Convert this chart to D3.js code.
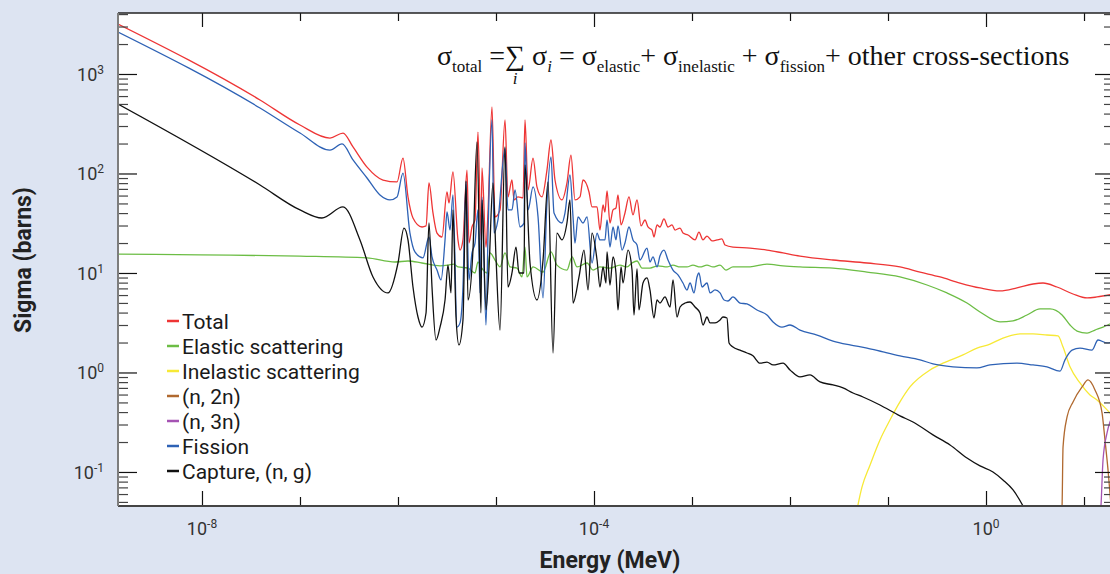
<!DOCTYPE html>
<html>
<head>
<meta charset="utf-8">
<script src="https://cdn.jsdelivr.net/npm/d3@7"></script>
<style>
  html, body { margin: 0; padding: 0; background: #dde4f2; }
  svg { display: block; }
</style>
</head>
<body>
<div id="chart"></div>
<script>
// Each point: [log10(E / MeV), sigma in barns]
const total = [
  [-8.857, 3180], [-7.408, 548], [-7.000, 307], [-6.694, 227], [-6.561, 255], [-6.459, 185],
  [-6.316, 116], [-6.153, 86.0], [-6.010, 82.2], [-5.949, 143], [-5.898, 58.1], [-5.847, 35.7],
  [-5.755, 29.0], [-5.714, 29.7], [-5.684, 80.3], [-5.643, 40.1], [-5.602, 25.2], [-5.551, 23.0],
  [-5.500, 65.2], [-5.480, 50.6], [-5.439, 104], [-5.388, 21.5], [-5.367, 17.0], [-5.337, 21.5],
  [-5.296, 108], [-5.276, 20.0], [-5.245, 29.0], [-5.214, 34.1], [-5.184, 261], [-5.153, 21.5],
  [-5.143, 114], [-5.102, 18.2], [-5.082, 40.1], [-5.041, 466], [-5.010, 36.6], [-4.959, 43.0],
  [-4.908, 345], [-4.878, 58.1], [-4.837, 86.0], [-4.816, 54.2], [-4.776, 58.1], [-4.724, 56.8],
  [-4.704, 345], [-4.673, 68.3], [-4.622, 143], [-4.582, 73.2], [-4.531, 58.1], [-4.480, 108],
  [-4.439, 217], [-4.398, 86.0], [-4.327, 54.2], [-4.276, 80.3], [-4.235, 153], [-4.194, 54.2],
  [-4.143, 58.1], [-4.112, 86.0], [-4.051, 65.2], [-4.020, 46.1], [-3.969, 46.1], [-3.939, 27.0],
  [-3.908, 48.2], [-3.888, 41.0], [-3.867, 66.7], [-3.837, 31.8], [-3.806, 43.0], [-3.776, 45.0],
  [-3.755, 60.8], [-3.724, 30.4], [-3.684, 40.1], [-3.643, 58.1], [-3.602, 38.3], [-3.561, 54.2],
  [-3.520, 29.7], [-3.480, 34.1], [-3.449, 29.0], [-3.408, 27.0], [-3.388, 23.0], [-3.357, 30.4],
  [-3.327, 29.0], [-3.286, 34.9], [-3.245, 29.0], [-3.204, 30.4], [-3.173, 27.0], [-3.122, 28.3],
  [-3.092, 25.2], [-3.041, 24.1], [-2.969, 21.5], [-2.929, 25.8], [-2.888, 21.5], [-2.847, 23.5],
  [-2.796, 21.0], [-2.745, 21.5], [-2.694, 22.0], [-2.663, 19.1], [-2.582, 18.2], [-2.408, 17.8],
  [-2.235, 17.0], [-2.071, 15.9], [-1.898, 14.8], [-1.561, 13.5], [-1.214, 12.6], [-0.878, 11.5],
  [-0.673, 10.2], [-0.469, 9.12], [-0.265, 7.93], [-0.061, 7.07], [0.143, 6.60], [0.316, 7.07],
  [0.480, 7.75], [0.582, 7.93], [0.724, 7.23], [0.888, 6.15], [1.031, 5.61], [1.133, 5.74],
  [1.306, 6.15]
]

const elastic = [
  [-8.857, 15.5], [-8.020, 15.2], [-7.000, 14.8], [-6.316, 14.2], [-6.031, 12.9], [-5.898, 13.2],
  [-5.755, 12.6], [-5.571, 11.8], [-5.490, 12.0], [-5.429, 12.3], [-5.388, 11.5], [-5.286, 11.2],
  [-5.214, 10.0], [-5.184, 12.9], [-5.153, 11.5], [-5.092, 10.0], [-5.061, 15.9], [-5.010, 13.5],
  [-4.959, 11.5], [-4.908, 15.9], [-4.857, 11.5], [-4.786, 11.2], [-4.735, 9.12], [-4.704, 18.2],
  [-4.684, 9.12], [-4.622, 11.5], [-4.520, 10.2], [-4.439, 16.3], [-4.378, 12.0], [-4.276, 10.7],
  [-4.224, 14.5], [-4.173, 11.5], [-4.071, 12.6], [-4.010, 10.7], [-3.939, 11.5], [-3.837, 11.2],
  [-3.735, 12.0], [-3.663, 11.5], [-3.612, 12.6], [-3.561, 13.2], [-3.510, 11.2], [-3.429, 11.2],
  [-3.347, 11.8], [-3.255, 11.5], [-3.194, 12.0], [-3.122, 11.5], [-3.051, 11.5], [-2.990, 12.0],
  [-2.918, 11.5], [-2.847, 12.0], [-2.786, 11.5], [-2.714, 12.0], [-2.653, 10.7], [-2.582, 11.5],
  [-2.408, 11.5], [-2.235, 12.3], [-2.071, 11.8], [-1.898, 11.5], [-1.561, 11.2], [-1.214, 10.2],
  [-0.878, 9.12], [-0.602, 7.57], [-0.398, 6.30], [-0.194, 4.99], [-0.061, 4.06], [0.143, 3.22],
  [0.276, 3.30], [0.418, 3.78], [0.551, 4.35], [0.653, 4.35], [0.776, 3.78], [0.857, 3.00],
  [0.929, 2.61], [1.031, 2.49], [1.112, 2.67], [1.194, 2.86], [1.306, 3.22]
]

const inelastic = [
  [-1.337, 0.033], [-1.265, 0.0707], [-1.184, 0.117], [-1.082, 0.210], [-0.980, 0.333],
  [-0.878, 0.506], [-0.776, 0.715], [-0.571, 1.06], [-0.439, 1.24], [-0.235, 1.50], [-0.092, 1.76],
  [0.041, 1.93], [0.173, 2.22], [0.347, 2.44], [0.480, 2.44], [0.622, 2.38], [0.735, 2.33],
  [0.786, 1.80], [0.857, 1.14], [0.959, 0.784], [1.061, 0.594], [1.133, 0.530], [1.265, 0.392],
  [1.306, 0.357]
]

const n2n = [
  [0.765, 0.033], [0.776, 0.0455], [0.786, 0.178], [0.827, 0.357], [0.888, 0.506], [0.980, 0.715],
  [1.041, 0.841], [1.112, 0.667], [1.184, 0.392], [1.214, 0.210], [1.245, 0.105], [1.276, 0.0455]
]

const n3n = [
  [1.163, 0.033], [1.173, 0.0455], [1.194, 0.132], [1.235, 0.247], [1.265, 0.318], [1.306, 0.372]
]

const fission = [
  [-8.857, 2640], [-7.408, 455], [-7.000, 255], [-6.694, 172], [-6.571, 198], [-6.459, 137],
  [-6.316, 90.1], [-6.184, 60.8], [-6.082, 54.2], [-6.010, 58.1], [-5.949, 101], [-5.878, 25.2],
  [-5.827, 16.3], [-5.745, 14.2], [-5.684, 23.0], [-5.653, 14.5], [-5.602, 10.7], [-5.561, 8.51],
  [-5.520, 21.5], [-5.500, 41.0], [-5.469, 27.0], [-5.439, 60.8], [-5.398, 2.86], [-5.367, 3.15],
  [-5.337, 7.23], [-5.306, 82.2], [-5.276, 8.51], [-5.245, 15.9], [-5.214, 20.0], [-5.184, 43.0],
  [-5.163, 6.30], [-5.143, 58.1], [-5.102, 3.00], [-5.082, 23.0], [-5.041, 345], [-5.020, 25.2],
  [-4.980, 34.1], [-4.908, 180], [-4.878, 43.0], [-4.837, 43.0], [-4.806, 68.3], [-4.755, 29.0],
  [-4.714, 31.8], [-4.704, 203], [-4.673, 43.0], [-4.622, 73.2], [-4.571, 36.6], [-4.520, 5.61],
  [-4.480, 50.6], [-4.439, 147], [-4.408, 40.1], [-4.327, 31.8], [-4.296, 40.1], [-4.245, 96.6],
  [-4.214, 36.6], [-4.194, 20.0], [-4.163, 36.6], [-4.112, 31.8], [-4.071, 36.6], [-4.020, 12.6],
  [-3.969, 25.2], [-3.939, 21.5], [-3.888, 21.5], [-3.867, 34.1], [-3.837, 18.2], [-3.806, 29.0],
  [-3.776, 21.5], [-3.755, 29.7], [-3.714, 17.0], [-3.684, 20.0], [-3.643, 29.0], [-3.602, 21.5],
  [-3.561, 19.1], [-3.531, 13.5], [-3.459, 17.8], [-3.429, 12.9], [-3.398, 14.5], [-3.357, 11.5],
  [-3.327, 14.8], [-3.286, 17.0], [-3.245, 13.5], [-3.194, 10.7], [-3.143, 9.55], [-3.092, 7.93],
  [-3.051, 6.75], [-3.020, 7.93], [-2.980, 6.30], [-2.949, 9.12], [-2.929, 10.0], [-2.898, 7.23],
  [-2.847, 7.93], [-2.816, 6.30], [-2.765, 6.75], [-2.714, 6.30], [-2.673, 5.35], [-2.633, 5.23],
  [-2.582, 5.74], [-2.510, 4.99], [-2.439, 4.88], [-2.337, 4.25], [-2.235, 3.78], [-2.173, 3.22],
  [-2.082, 2.86], [-2.000, 3.00], [-1.898, 2.67], [-1.724, 2.38], [-1.561, 2.07], [-1.388, 1.89],
  [-1.214, 1.76], [-1.051, 1.61], [-0.878, 1.47], [-0.673, 1.34], [-0.541, 1.22], [-0.337, 1.14],
  [-0.092, 1.11], [0.041, 1.19], [0.316, 1.24], [0.480, 1.19], [0.622, 1.14], [0.755, 1.03],
  [0.806, 1.34], [0.878, 1.68], [0.959, 1.76], [1.082, 1.68], [1.143, 2.12], [1.235, 1.98],
  [1.306, 2.03]
]

const capture = [
  [-8.857, 499], [-7.408, 76.6], [-7.000, 43.0], [-6.776, 35.7], [-6.561, 46.1], [-6.388, 21.5],
  [-6.255, 9.12], [-6.102, 6.30], [-6.000, 12.6], [-5.939, 28.3], [-5.898, 21.5], [-5.847, 7.23],
  [-5.796, 3.61], [-5.755, 2.86], [-5.714, 3.96], [-5.684, 31.8], [-5.653, 7.23], [-5.612, 2.12],
  [-5.571, 2.86], [-5.520, 5.35], [-5.490, 12.0], [-5.459, 6.30], [-5.439, 43.0], [-5.408, 3.61],
  [-5.378, 1.89], [-5.337, 3.37], [-5.306, 84.1], [-5.286, 5.35], [-5.235, 17.0], [-5.194, 208],
  [-5.153, 3.96], [-5.143, 54.2], [-5.102, 4.25], [-5.071, 11.5], [-5.031, 80.3], [-5.000, 14.5],
  [-4.959, 2.67], [-4.908, 185], [-4.878, 7.23], [-4.837, 10.0], [-4.796, 18.2], [-4.765, 10.0],
  [-4.714, 10.0], [-4.704, 122], [-4.653, 12.6], [-4.582, 5.35], [-4.520, 13.5], [-4.469, 82.2],
  [-4.418, 1.57], [-4.378, 25.2], [-4.327, 21.5], [-4.276, 31.8], [-4.245, 54.2], [-4.214, 4.99],
  [-4.153, 9.12], [-4.102, 17.0], [-4.061, 6.75], [-4.020, 25.2], [-3.969, 13.5], [-3.939, 7.23],
  [-3.908, 11.5], [-3.878, 7.93], [-3.867, 16.3], [-3.837, 7.57], [-3.806, 14.5], [-3.776, 10.0],
  [-3.755, 4.25], [-3.724, 11.5], [-3.704, 7.93], [-3.653, 17.0], [-3.612, 10.7], [-3.592, 3.78],
  [-3.561, 11.0], [-3.541, 4.25], [-3.500, 7.93], [-3.459, 8.91], [-3.429, 6.75], [-3.388, 3.53],
  [-3.357, 5.35], [-3.327, 4.99], [-3.276, 5.74], [-3.224, 4.55], [-3.194, 8.51], [-3.153, 3.61],
  [-3.122, 4.55], [-3.071, 4.99], [-3.020, 5.11], [-2.969, 4.55], [-2.918, 3.96], [-2.888, 3.00],
  [-2.847, 3.61], [-2.816, 3.15], [-2.765, 3.15], [-2.714, 3.37], [-2.684, 3.61], [-2.643, 3.53],
  [-2.622, 1.98], [-2.582, 1.80], [-2.510, 1.68], [-2.439, 1.57], [-2.378, 1.47], [-2.306, 1.24],
  [-2.235, 1.27], [-2.173, 1.19], [-2.071, 1.24], [-2.000, 1.06], [-1.898, 0.902], [-1.796, 0.944],
  [-1.694, 0.803], [-1.561, 0.749], [-1.459, 0.699], [-1.357, 0.622], [-1.255, 0.567],
  [-1.082, 0.471], [-0.878, 0.366], [-0.745, 0.318], [-0.541, 0.236], [-0.367, 0.187],
  [-0.194, 0.138], [-0.061, 0.115], [0.071, 0.100], [0.173, 0.0832], [0.276, 0.0660],
  [0.378, 0.0455], [0.449, 0.033]
]

const seriesNames = ['Total', 'Elastic scattering', 'Inelastic scattering', '(n, 2n)', '(n, 3n)', 'Fission', 'Capture, (n, g)']
const seriesData = [total, elastic, inelastic, n2n, n3n, fission, capture]
const seriesColours = ['#ee3535', '#6cbd45', '#f7e936', '#b0692f', '#a553b3', '#2e62b5', '#111111']
// draw order: background curves first, capture and fission over the rest
const drawOrder = [1, 2, 3, 4, 0, 5, 6]

const xTickExps = [-8, -7, -6, -5, -4, -3, -2, -1, 0, 1]
const xLabelExps = [-8, -4, 0]
const yLabelExps = [-1, 0, 1, 2, 3]

const width = 1110
const height = 574
const plot = { left: 118, top: 13, right: 1114, bottom: 506 }

const svg = d3.select('#chart').append('svg')
  .attr('width', width)
  .attr('height', height)
  .style('font-family', 'Roboto, "Noto Sans", sans-serif')

svg.append('rect')
  .attr('width', width).attr('height', height)
  .attr('fill', '#dde4f2')

svg.append('rect')
  .attr('x', plot.left).attr('y', plot.top)
  .attr('width', plot.right - plot.left).attr('height', plot.bottom - plot.top)
  .attr('fill', '#fff')

const x = d3.scaleLog().domain([Math.pow(10, -8.857), Math.pow(10, 1.306)]).range([plot.left, plot.right])
const y = d3.scaleLog().domain([Math.pow(10, -1.342), Math.pow(10, 3.613)]).range([plot.bottom, plot.top])

svg.append('clipPath').attr('id', 'clip')
  .append('rect')
  .attr('x', plot.left).attr('y', plot.top)
  .attr('width', plot.right - plot.left).attr('height', plot.bottom - plot.top)

const line = d3.line()
  .x(d => x(Math.pow(10, d[0])))
  .y(d => y(d[1]))
  .curve(d3.curveMonotoneX)

svg.append('g')
  .attr('clip-path', 'url(#clip)')
  .selectAll('path')
  .data(drawOrder)
  .join('path')
  .attr('d', i => line(seriesData[i]))
  .attr('fill', 'none')
  .attr('stroke', i => seriesColours[i])
  .attr('stroke-width', 1.3)
  .attr('stroke-linejoin', 'round')

// ---- axes ----
const yMinor = y.ticks().filter(v => !yLabelExps.some(e => Math.abs(Math.log10(v) - e) < 1e-6))
const yMajor = yLabelExps.map(e => Math.pow(10, e))
const xMajor = xLabelExps.map(e => Math.pow(10, e))
const xMinor = xTickExps.filter(e => !xLabelExps.includes(e)).map(e => Math.pow(10, e))

function styleAxis (g, colour) {
  g.select('.domain').remove()
  g.selectAll('.tick line').attr('stroke', colour).attr('stroke-width', 1.2)
  g.selectAll('.tick text').remove()
}

svg.append('g').attr('transform', `translate(${plot.left},0)`)
  .call(d3.axisLeft(y).tickValues(yMinor).tickSize(-10).tickFormat(''))
  .call(g => styleAxis(g, '#444'))
svg.append('g').attr('transform', `translate(${plot.left},0)`)
  .call(d3.axisLeft(y).tickValues(yMajor).tickSize(-19).tickFormat(''))
  .call(g => styleAxis(g, '#111'))
svg.append('g').attr('transform', `translate(${plot.right},0)`)
  .call(d3.axisRight(y).tickValues(yMinor).tickSize(-10).tickFormat(''))
  .call(g => styleAxis(g, '#444'))
svg.append('g').attr('transform', `translate(${plot.right},0)`)
  .call(d3.axisRight(y).tickValues(yMajor).tickSize(-19).tickFormat(''))
  .call(g => styleAxis(g, '#111'))

svg.append('g').attr('transform', `translate(0,${plot.bottom})`)
  .call(d3.axisBottom(x).tickValues(xMajor).tickSize(-15).tickFormat(''))
  .call(g => styleAxis(g, '#111'))
svg.append('g').attr('transform', `translate(0,${plot.bottom})`)
  .call(d3.axisBottom(x).tickValues(xMinor).tickSize(-9).tickFormat(''))
  .call(g => styleAxis(g, '#111'))
svg.append('g').attr('transform', `translate(0,${plot.top})`)
  .call(d3.axisTop(x).tickValues(xMajor).tickSize(-14).tickFormat(''))
  .call(g => styleAxis(g, '#111'))
svg.append('g').attr('transform', `translate(0,${plot.top})`)
  .call(d3.axisTop(x).tickValues(xMinor).tickSize(-8).tickFormat(''))
  .call(g => styleAxis(g, '#111'))

// frame
svg.append('line').attr('x1', plot.left).attr('x2', plot.right).attr('y1', plot.top).attr('y2', plot.top)
  .attr('stroke', '#222').attr('stroke-width', 1.5)
svg.append('line').attr('x1', plot.left).attr('x2', plot.right).attr('y1', plot.bottom).attr('y2', plot.bottom)
  .attr('stroke', '#444').attr('stroke-width', 2)
svg.append('line').attr('x1', plot.left).attr('x2', plot.left).attr('y1', plot.top).attr('y2', plot.bottom)
  .attr('stroke', '#7d7d7d').attr('stroke-width', 2)
svg.append('line').attr('x1', plot.right).attr('x2', plot.right).attr('y1', plot.top).attr('y2', plot.bottom)
  .attr('stroke', '#7d7d7d').attr('stroke-width', 2)

// tick labels with superscript exponents
function powerLabel (sel, e) {
  sel.append('tspan').text('10')
  sel.append('tspan').attr('dy', -7).attr('font-size', 12).text(e)
}

yLabelExps.forEach(e => {
  svg.append('text')
    .attr('x', 104).attr('y', y(Math.pow(10, e)) + 7)
    .attr('text-anchor', 'end')
    .attr('font-size', 18).attr('fill', '#333')
    .call(powerLabel, e)
})
xLabelExps.forEach(e => {
  svg.append('text')
    .attr('x', x(Math.pow(10, e))).attr('y', 535)
    .attr('text-anchor', 'middle')
    .attr('font-size', 18).attr('fill', '#333')
    .call(powerLabel, e)
})

// axis titles
svg.append('text')
  .attr('transform', 'translate(31,260) rotate(-90)')
  .attr('text-anchor', 'middle')
  .attr('font-size', 23).attr('font-weight', 'bold').attr('fill', '#222')
  .text('Sigma (barns)')
svg.append('text')
  .attr('x', 610).attr('y', 568)
  .attr('text-anchor', 'middle')
  .attr('font-size', 23).attr('font-weight', 'bold').attr('fill', '#222')
  .text('Energy (MeV)')

// legend
const legend = svg.append('g').attr('transform', 'translate(167,329)')
seriesNames.forEach((name, i) => {
  const row = legend.append('g').attr('transform', `translate(0,${i * 25})`)
  row.append('line').attr('x1', 0).attr('x2', 12).attr('y1', -8).attr('y2', -8)
    .attr('stroke', seriesColours[i]).attr('stroke-width', 2.5)
  row.append('text').attr('x', 15).attr('font-size', 21).attr('fill', '#1a1a1a').text(name)
})

// formula
const formulaParts = [
  { t: 'σ', s: 28 }, { t: 'total', s: 17, dy: 7 }, { t: ' =', s: 28 }, { t: '∑', s: 28, sum: true },
  { t: ' σ', s: 28 }, { t: 'i', s: 17, dy: 7, it: true }, { t: ' = σ', s: 28 }, { t: 'elastic', s: 17, dy: 7 },
  { t: '+ σ', s: 28 }, { t: 'inelastic', s: 17, dy: 7 }, { t: ' + σ', s: 28 }, { t: 'fission', s: 17, dy: 7 },
  { t: '+ other cross-sections', s: 28 }
]
const formula = svg.append('g').style('font-family', '"Liberation Serif", "Times New Roman", serif')
let cursor = 437
const baseY = 65
formulaParts.forEach(p => {
  const t = formula.append('text')
    .attr('x', cursor).attr('y', baseY + (p.dy || 0))
    .attr('font-size', p.s).attr('fill', '#111')
    .style('white-space', 'pre')
    .style('font-style', p.it ? 'italic' : 'normal')
    .text(p.t)
  const w = t.node().getComputedTextLength()
  if (p.sum) {
    formula.append('text')
      .attr('x', cursor + w / 2).attr('y', baseY + 19)
      .attr('text-anchor', 'middle').attr('font-size', 17)
      .style('font-style', 'italic').attr('fill', '#111')
      .text('i')
  }
  cursor += w
})
</script>
</body>
</html>
